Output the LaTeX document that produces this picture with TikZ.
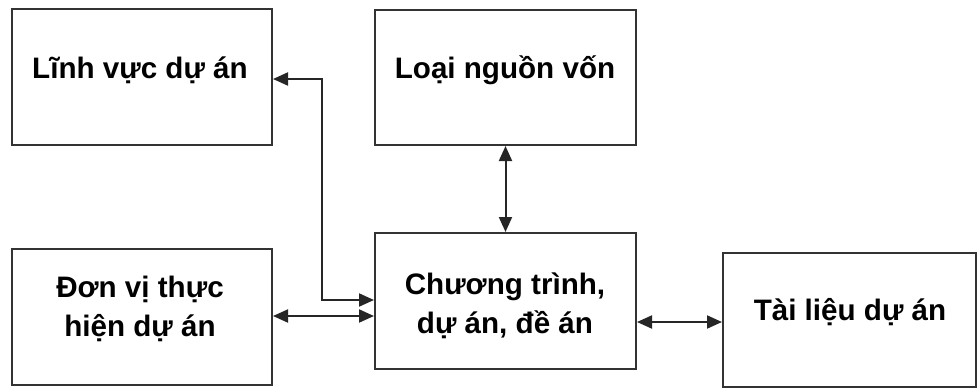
\documentclass[tikz,border=0pt]{standalone}
\usepackage{fontspec}
\setmainfont{Liberation Sans}
\usetikzlibrary{arrows.meta}
\begin{document}
\begin{tikzpicture}[x=1pt,y=-1pt,
  box/.style={draw=black!80, line width=2pt, minimum width=#1, inner sep=0pt},
  lbl/.style={font=\fontsize{29.6}{39}\selectfont\bfseries, align=center, text=black, inner sep=0pt},
  conn/.style={line width=2pt, draw=black!85, {Triangle[length=15pt,width=13pt]}-{Triangle[length=15pt,width=13pt]}}]
\useasboundingbox (0,0) rectangle (978,389);
\node[box=260pt, minimum height=136pt] (b1) at (142,77) {};
\node[box=261pt, minimum height=135pt] (b2) at (505.5,77.5) {};
\node[box=260pt, minimum height=136pt] (b3) at (142,317) {};
\node[box=261pt, minimum height=136pt] (b4) at (505.5,301) {};
\node[box=253pt, minimum height=134pt] (b5) at (849.5,320) {};
\node[lbl] (t1) at (140,70) {Lĩnh vực dự án};
\node[lbl] (t2) at (505,70) {Loại nguồn vốn};
\node[lbl] (t3) at (140,309) {Đơn vị thực\\hiện dự án};
\node[lbl] (t4) at (505,306) {Chương trình,\\dự án, đề án};
\node[lbl] (t5) at (850,312) {Tài liệu dự án};
\coordinate (k1) at (322,79);
\coordinate (k2) at (322,300);
\coordinate (h1) at (0,316);
\coordinate (h2) at (0,322);
\draw[conn] (b1.east |- k1) -- (k1) -- (k2) -- (b4.west |- k2);
\draw[conn] (b3.east |- h1) -- (b4.west |- h1);
\draw[conn] (b2.south) -- (b4.north);
\draw[conn] (b4.east |- h2) -- (b5.west |- h2);
\end{tikzpicture}
\end{document}
